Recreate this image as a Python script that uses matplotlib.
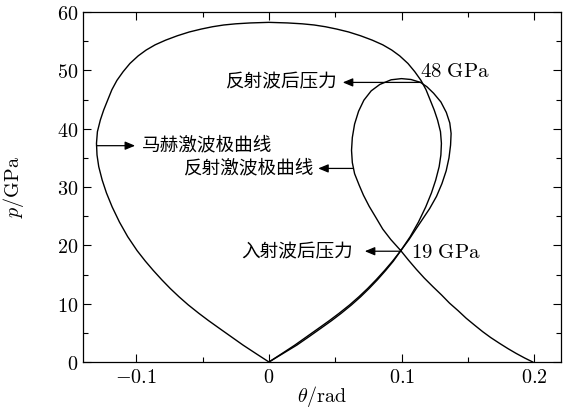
import matplotlib
matplotlib.use("Agg")
import matplotlib.pyplot as plt
from matplotlib.ticker import MultipleLocator, FuncFormatter

plt.rcParams['font.family'] = ['Noto Sans CJK SC', 'DejaVu Sans']
plt.rcParams['mathtext.fontset'] = 'cm'

# incident (Mach) shock polar, closed curve
incident_theta = [0.0, -0.0098, -0.0195, -0.0285, -0.0375, -0.0455, -0.0528, -0.0608,
                  -0.0678, -0.0743, -0.0807, -0.0871, -0.0931, -0.0993, -0.1064, -0.1126,
                  -0.1181, -0.1224, -0.1256, -0.1282, -0.1295, -0.1299, -0.1292, -0.127,
                  -0.1245, -0.1215, -0.1183, -0.1145, -0.1098, -0.1047, -0.0985, -0.0925,
                  -0.0857, -0.0778, -0.069, -0.060, -0.051, -0.0425, -0.034, -0.025,
                  -0.014, 0.0,
                  0.014, 0.025, 0.034, 0.0425, 0.051, 0.060, 0.069, 0.0778, 0.0857,
                  0.0925, 0.0985, 0.1047, 0.1098, 0.1145, 0.1183, 0.1215, 0.1245, 0.127,
                  0.1292, 0.1299, 0.1295, 0.1282, 0.1256, 0.1224, 0.1181, 0.1126, 0.1064,
                  0.0993, 0.0931, 0.0871, 0.0807, 0.0743, 0.0678, 0.0608, 0.0528, 0.0455,
                  0.0375, 0.0285, 0.0195, 0.0098, 0.0]
incident_p = [0.0, 1.45, 2.9, 4.35, 5.8, 7.1, 8.35, 9.8,
              11.2, 12.6, 14.1, 15.7, 17.3, 19.1, 21.5, 24.0,
              26.6, 29.0, 31.2, 33.5, 35.5, 37.5, 39.5, 41.5,
              43.2, 44.9, 46.7, 48.3, 49.8, 51.2, 52.5, 53.5,
              54.4, 55.2, 55.95, 56.6, 57.1, 57.5, 57.8, 58.0,
              58.15, 58.25,
              58.15, 58.0, 57.8, 57.5, 57.1, 56.6, 55.95, 55.2, 54.4,
              53.5, 52.5, 51.2, 49.8, 48.3, 46.7, 44.9, 43.2, 41.5,
              39.5, 37.5, 35.5, 33.5, 31.2, 29.0, 26.6, 24.0, 21.5,
              19.1, 17.3, 15.7, 14.1, 12.6, 11.2, 9.8, 8.35, 7.1,
              5.8, 4.35, 2.9, 1.45, 0.0]

# reflected shock polar (one continuous curve)
reflected_theta = [0.0, 0.0105, 0.021, 0.0302, 0.0392, 0.0472, 0.0544, 0.0622, 0.0691,
                   0.0754, 0.0817, 0.0879, 0.0937, 0.0993,
                   0.1055, 0.1110, 0.1160, 0.1210, 0.1262, 0.1303, 0.1335, 0.1356, 0.1368,
                   0.1372, 0.1362, 0.1336, 0.1295, 0.124, 0.119, 0.1142, 0.107, 0.0998,
                   0.092, 0.0835, 0.077, 0.0715, 0.0675, 0.0645, 0.0628, 0.0622, 0.0628,
                   0.0645, 0.068, 0.0712, 0.0755, 0.0805, 0.0857, 0.0918, 0.0993,
                   0.105, 0.111, 0.117, 0.1236, 0.130, 0.136, 0.1425, 0.1486, 0.155,
                   0.161, 0.167, 0.1737, 0.180, 0.186, 0.1925, 0.1987]
reflected_p = [0.0, 1.45, 2.9, 4.35, 5.8, 7.1, 8.35, 9.8, 11.2,
               12.6, 14.1, 15.7, 17.3, 19.1,
               21.0, 22.9, 24.6, 26.3, 28.4, 30.6, 32.8, 35.0, 37.2,
               39.2, 41.0, 42.8, 44.6, 46.1, 47.2, 47.95, 48.45, 48.6,
               48.4, 47.6, 46.5, 44.9, 43.0, 40.8, 38.5, 36.3, 34.2,
               32.3, 30.3, 28.6, 26.7, 24.8, 22.8, 21.0, 19.1,
               17.5, 15.9, 14.4, 12.9, 11.5, 10.1, 8.8, 7.5, 6.3,
               5.2, 4.2, 3.2, 2.3, 1.5, 0.7, 0.0]

labels = ['马赫激波极曲线', '反射波后压力', '反射激波极曲线', '入射波后压力']
arrow_tail = [(-0.1299, 37.1), (0.1145, 47.95), (0.0630, 33.2), (0.0993, 19.0)]
arrow_head = [(-0.1008, 37.1), (0.0556, 47.95), (0.0371, 33.2), (0.0722, 19.0)]

fig = plt.figure(figsize=(5.69, 4.19), dpi=100)
ax = fig.add_axes([0.146, 0.136, 0.840, 0.835])

ax.plot(incident_theta, incident_p, color='black', lw=1.0)
ax.plot(reflected_theta, reflected_p, color='black', lw=1.0)

aprops = dict(arrowstyle='-|>,head_length=0.6,head_width=0.25', color='black',
              lw=0.9, shrinkA=0, shrinkB=0)
for (tx, ty), (hx, hy) in zip(arrow_tail, arrow_head):
    ax.annotate('', xy=(hx, hy), xytext=(tx, ty), arrowprops=aprops)

ax.text(-0.0957, 37.1, labels[0], ha='left', va='center', fontsize=13.4)
ax.text(0.0509, 48.05, labels[1], ha='right', va='center', fontsize=13.4)
ax.text(0.0333, 33.2, labels[2], ha='right', va='center', fontsize=13.4)
ax.text(0.0634, 18.8, labels[3], ha='right', va='center', fontsize=13.4)
ax.text(0.1138, 49.9, r'$48\ \mathrm{GPa}$', ha='left', va='center', fontsize=15)
ax.text(0.1073, 18.8, r'$19\ \mathrm{GPa}$', ha='left', va='center', fontsize=15)

ax.set_xlim(-0.14, 0.22)
ax.set_ylim(0, 60)
ax.xaxis.set_major_locator(MultipleLocator(0.1))
ax.xaxis.set_minor_locator(MultipleLocator(0.05))
ax.yaxis.set_major_locator(MultipleLocator(10))
ax.yaxis.set_minor_locator(MultipleLocator(5))

def fmt(v, pos):
    return '$%g$' % round(v, 3)

ax.xaxis.set_major_formatter(FuncFormatter(fmt))
ax.yaxis.set_major_formatter(FuncFormatter(fmt))
ax.tick_params(which='both', direction='in', top=True, right=True, width=0.8,
               labelsize=14.5)
ax.tick_params(which='major', length=6)
ax.tick_params(which='minor', length=3.5)
for s in ax.spines.values():
    s.set_linewidth(0.9)

ax.set_xlabel(r'$\theta/\mathrm{rad}$', fontsize=14.5, labelpad=-2.5)
ax.set_ylabel(r'$p/\mathrm{GPa}$', fontsize=14.5)
ax.yaxis.set_label_coords(-0.12, 0.5)

fig.savefig('out.png', dpi=100)
